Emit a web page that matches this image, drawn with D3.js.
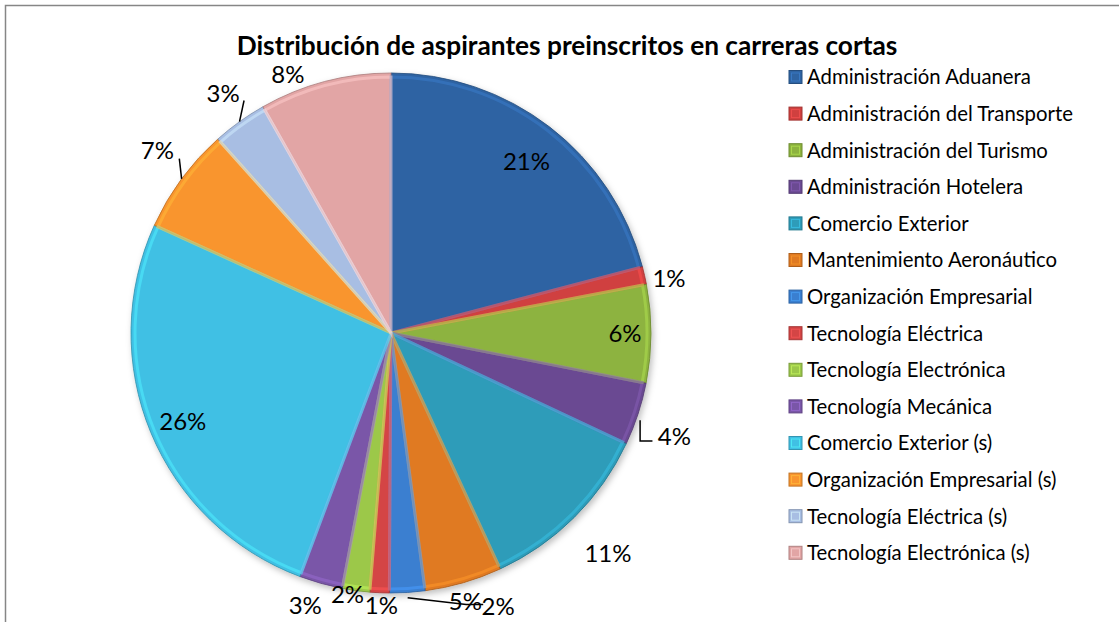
<!DOCTYPE html>
<meta charset="utf-8">
<style>
body { margin: 0; background: #fff; }
text { font-family: Lato, "Open Sans", sans-serif; fill: #000; }
</style>
<svg width="1119" height="622"></svg>
<script src="https://d3js.org/d3.v7.min.js"></script>
<script>

// careers, in the order excel drew them (clockwise from 12 o'clock)
var categories = [
  "Administración Aduanera",
  "Administración del Transporte",
  "Administración del Turismo",
  "Administración Hotelera",
  "Comercio Exterior",
  "Mantenimiento Aeronáutico",
  "Organización Empresarial",
  "Tecnología Eléctrica",
  "Tecnología Electrónica",
  "Tecnología Mecánica",
  "Comercio Exterior (s)",
  "Organización Empresarial (s)",
  "Tecnología Eléctrica (s)",
  "Tecnología Electrónica (s)"
];

// share of applicants
var values = [20.9, 1.1, 6.1, 3.9, 11.1, 4.8, 2.2, 1.2, 1.7, 2.7, 26.1, 6.6, 3.4, 8.2];

var colours = [
  "#2f64a3", "#d0403f", "#8db33f", "#6b4a92", "#2e9cb9", "#e07a22", "#3a7fd0",
  "#d44545", "#9cc84a", "#7a56a8", "#40c0e4", "#f9952f", "#a8bee3", "#e2a5a5"
];

var title = "Distribución de aspirantes preinscritos en carreras cortas";

var svg = d3.select("svg");

// outer frame of the chart area (runs off the page on the right / bottom)
svg.append("rect")
    .attr("x", 5.5).attr("y", 5.5)
    .attr("width", 1140).attr("height", 650)
    .attr("fill", "#fff")
    .attr("stroke", "#868686")
    .attr("stroke-width", 1.5);

// title, sized so it spans the same width as the original
var t = svg.append("text")
    .attr("x", 567).attr("y", 55)
    .attr("text-anchor", "middle")
    .style("font-weight", "bold")
    .style("font-size", "22px")
    .text(title);
var tw = t.node().getComputedTextLength();
t.style("font-size", (22 * 661 / tw).toFixed(2) + "px");

var cx = 391, cy = 333, r = 260;

var defs = svg.append("defs");
var shadow = defs.append("filter").attr("id", "shadow")
    .attr("x", "-10%").attr("y", "-10%").attr("width", "120%").attr("height", "120%");
shadow.append("feDropShadow")
    .attr("dx", 2).attr("dy", 3).attr("stdDeviation", 3)
    .attr("flood-color", "#000").attr("flood-opacity", 0.25);

var pie = d3.pie().sort(null).value(function(d) { return d; });
var arcs = pie(values);
var total = d3.sum(values);

var arc = d3.arc().innerRadius(0).outerRadius(r);
var inner = d3.arc().innerRadius(0).outerRadius(r - 4);

var g = svg.append("g").attr("transform", "translate(" + cx + "," + cy + ")");

var slices = g.append("g").attr("filter", "url(#shadow)");

slices.selectAll("path.slice")
  .data(arcs)
  .enter().append("path")
    .attr("class", "slice")
    .attr("d", arc)
    .attr("fill", function(d, i) { return colours[i]; })
    .attr("stroke", function(d, i) { return d3.color(colours[i]).darker(0.8); })
    .attr("stroke-width", 0.8);

// soft bevel: a lighter rim just inside each slice
g.selectAll("path.bevel")
  .data(arcs)
  .enter().append("path")
    .attr("class", "bevel")
    .attr("d", inner)
    .attr("fill", "none")
    .attr("stroke", function(d, i) { return d3.color(colours[i]).brighter(0.6); })
    .attr("stroke-opacity", 0.55)
    .attr("stroke-width", 3);

function polar(a, rad) {
  return [rad * Math.sin(a), -rad * Math.cos(a)];
}
function mid(d) { return (d.startAngle + d.endAngle) / 2; }

// label placement: [radius factor, angle nudge in degrees]
var labelPlace = [
  [0.84, 0.7], [1.09, 1.6], [0.9, 0], [1.16, 1.8], [1.19, 0.3], [1.07, 0.7],
  [1.13, -17.8], [1.05, -0.5], [1.02, 1.7], [1.10, 1.8], [0.87, -0.5],
  [1.14, 1.6], [1.125, 0.6], [1.07, -7]
];

var labelPos = arcs.map(function(d, i) {
  var p = labelPlace[i];
  return polar(mid(d) + p[1] * Math.PI / 180, r * p[0]);
});

g.selectAll("text.pct")
  .data(arcs)
  .enter().append("text")
    .attr("class", "pct")
    .attr("x", function(d, i) { return labelPos[i][0]; })
    .attr("y", function(d, i) { return labelPos[i][1]; })
    .attr("dy", "0.36em")
    .attr("text-anchor", "middle")
    .style("font-size", "24px")
    .text(function(d) { return Math.round(d.value / total * 100) + "%"; });

// leader lines for the labels excel pushed away from their slice
var line = d3.line();
var leaders = [];
(function() {
  var s, p;
  // 4%
  s = polar(mid(arcs[3]) + 1.1 * Math.PI / 180, r * 1.015); p = labelPos[3];
  leaders.push([s, [s[0], p[1] + 5], [p[0] - 22, p[1] + 5]]);
  // 2% (Organización Empresarial)
  s = polar(mid(arcs[6]), r * 1.02); p = labelPos[6];
  leaders.push([s, [p[0] - 32, p[1] - 2], [p[0] - 15, p[1] - 2]]);
  // 7%
  s = polar(mid(arcs[11]), r); p = labelPos[11];
  leaders.push([[p[0] + 22, p[1] + 8], s]);
  // 3% (s)
  s = polar(mid(arcs[12]), r); p = labelPos[12];
  leaders.push([[p[0] + 21, p[1] + 7], s]);
})();

g.selectAll("path.leader")
  .data(leaders)
  .enter().append("path")
    .attr("class", "leader")
    .attr("d", line)
    .attr("fill", "none")
    .attr("stroke", "#000")
    .attr("stroke-width", 1.5);

// legend
var legend = svg.append("g").attr("transform", "translate(789,77)");
var items = legend.selectAll("g")
  .data(categories)
  .enter().append("g")
    .attr("transform", function(d, i) { return "translate(0," + (i * 36.6) + ")"; });

items.append("rect")
    .attr("x", 0).attr("y", -6.5)
    .attr("width", 13).attr("height", 13)
    .attr("fill", function(d, i) { return colours[i]; })
    .attr("stroke", function(d, i) { return d3.color(colours[i]).darker(0.7); })
    .attr("stroke-width", 1);

items.append("rect")
    .attr("x", 2.5).attr("y", -4)
    .attr("width", 8).attr("height", 8)
    .attr("fill", "none")
    .attr("stroke", function(d, i) { return d3.color(colours[i]).brighter(0.8); })
    .attr("stroke-opacity", 0.6)
    .attr("stroke-width", 1);

var labels = items.append("text")
    .attr("x", 18)
    .attr("dy", "0.36em")
    .style("font-size", "16px")
    .text(function(d) { return d; });

// match the width of the longest legend entry in the original
var longest = d3.max(labels.nodes(), function(n) { return n.getComputedTextLength(); });
labels.style("font-size", (16 * 266 / longest).toFixed(2) + "px");

</script>
